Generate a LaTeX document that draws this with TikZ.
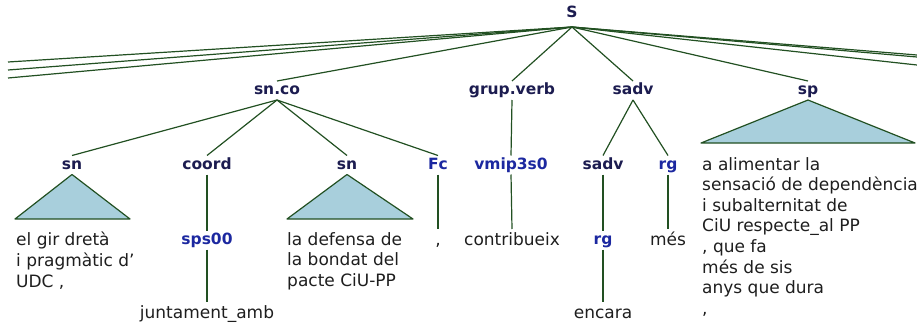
\documentclass[tikz,border=0pt]{standalone}
\usepackage{fontspec}
\setmainfont{DejaVu Sans}
\definecolor{edgec}{RGB}{34,80,34}
\definecolor{ntc}{RGB}{28,28,80}
\definecolor{ptc}{RGB}{28,40,160}
\definecolor{trif}{RGB}{168,207,220}
\definecolor{leafc}{RGB}{30,30,30}
\begin{document}
\begin{tikzpicture}[x=1pt,y=-1pt,
 lab/.style={font=\fontsize{15.5}{18}\selectfont\bfseries, inner sep=0pt, text height=12pt, text depth=4pt, outer sep=1.5pt, anchor=base},
 nt/.style={lab,text=ntc},
 pt/.style={lab,text=ptc},
 rootlab/.style={font=\fontsize{15.5}{18}\selectfont\bfseries, text=ntc, inner sep=0pt, text height=12pt, text depth=9.5pt, outer sep=0pt, anchor=base},
 leaf/.style={font=\fontsize{17}{20.6}\selectfont, text=leafc, inner sep=0pt, text height=15pt, text depth=4pt, outer sep=1pt, anchor=base},
 block/.style={font=\fontsize{17}{20.6}\selectfont, text=leafc, inner sep=0pt, align=left, anchor=north west},
 edge/.style={draw=edgec, line width=1.2pt},
 tri/.style={draw=edgec, fill=trif, line width=1.2pt, line join=round}]
\useasboundingbox (0,0) rectangle (917,324);
\clip (0,0) rectangle (917,324);
% labels
\node[rootlab] (S) at (572,17.5) {S};
\node[nt] (snco) at (277,94.5) {sn.co};
\node[nt] (gv) at (512,94.5) {grup.verb};
\node[nt] (sadv) at (633,94.5) {sadv};
\node[nt] (sp) at (808,94.5) {sp};
\node[nt] (sn1) at (72,169) {sn};
\node[nt] (coord) at (207,169) {coord};
\node[nt] (sn2) at (347,169) {sn};
\node[pt] (fc) at (438,169) {Fc};
\node[pt] (vmip) at (511,169) {vmip3s0};
\node[nt] (sadv2) at (603,169) {sadv};
\node[pt] (rg1) at (668,169) {rg};
\node[pt] (sps) at (207,244) {sps00};
\node[pt] (rg2) at (603,244) {rg};
% leaves
\node[leaf] (comma) at (438,245) {,};
\node[leaf] (contr) at (512,245) {contribueix};
\node[leaf] (mes) at (668,245) {més};
\node[leaf] (junt) at (207,318) {juntament\_amb};
\node[leaf] (enc) at (603,318) {encara};
\node[block] (b1) at (16,232) {el gir dretà\\i pragmàtic d’\\UDC ,};
\node[block] (b2) at (287,232) {la defensa de\\la bondat del\\pacte CiU-PP};
\node[block] (b3) at (702,157) {a alimentar la\\sensació de dependència\\i subalternitat de\\CiU respecte\_al PP\\, que fa\\més de sis\\anys que dura\\,};
% off-picture ends
\coordinate (L1) at (8,62);
\coordinate (L2) at (8,70);
\coordinate (L3) at (8,78);
\coordinate (R1) at (917,55);
\coordinate (R2) at (917,57);
\coordinate (R3) at (917,65);
% triangle corners
\coordinate (t1l) at (15,219); \coordinate (t1r) at (130,219);
\coordinate (t2l) at (287,219); \coordinate (t2r) at (413,219);
\coordinate (t3l) at (701,143); \coordinate (t3r) at (915,143);
% edges
\foreach \t in {L1,L2,L3,R1,R2,R3} \draw[edge] (S.south) -- (\t);
\foreach \t in {snco,gv,sadv,sp} \draw[edge] (S.south) -- (\t.north);
\foreach \t in {sn1,coord,sn2,fc} \draw[edge] (snco.south) -- (\t.north);
\draw[edge] (coord.south) -- (sps.north);
\draw[edge] (sps.south) -- (junt.north);
\draw[edge] (fc.south) -- (comma.north);
\draw[edge] (gv.south) -- (vmip.north);
\draw[edge] (vmip.south) -- (contr.north);
\draw[edge] (sadv.south) -- (sadv2.north);
\draw[edge] (sadv.south) -- (rg1.north);
\draw[edge] (sadv2.south) -- (rg2.north);
\draw[edge] (rg2.south) -- (enc.north);
\draw[edge] (rg1.south) -- (mes.north);
% triangles
\draw[tri] (sn1.south) -- (t1l) -- (t1r) -- cycle;
\draw[tri] (sn2.south) -- (t2l) -- (t2r) -- cycle;
\draw[tri] (sp.south) -- (t3l) -- (t3r) -- cycle;
\end{tikzpicture}
\end{document}
